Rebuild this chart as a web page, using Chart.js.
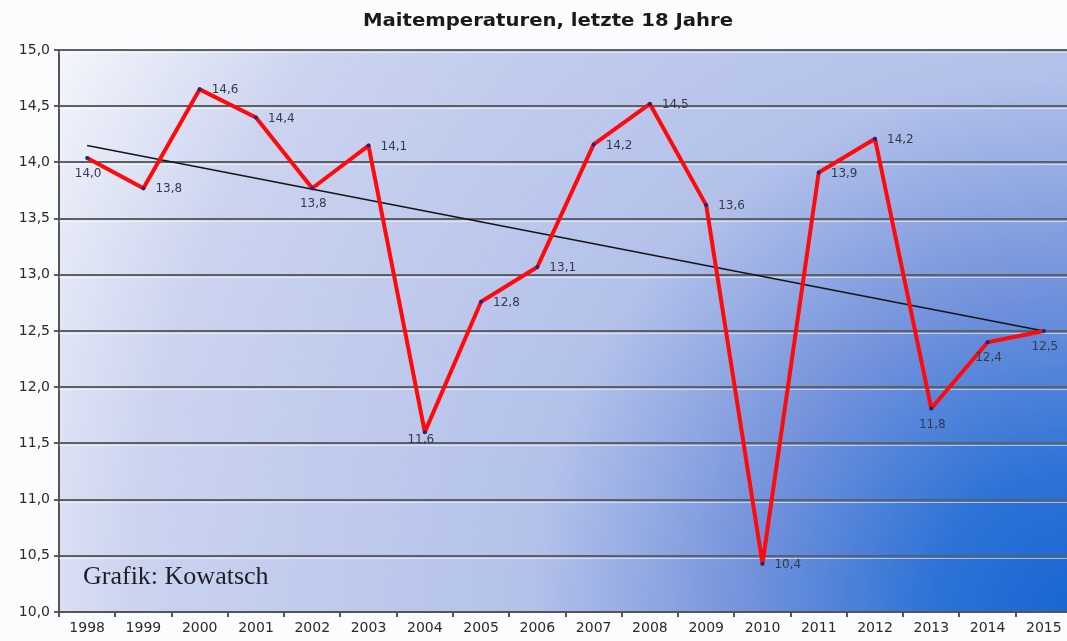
<!DOCTYPE html>
<html>
<head>
<meta charset="utf-8">
<script src="https://cdn.jsdelivr.net/npm/chart.js@4/dist/chart.umd.min.js"></script>
<style>
  html, body { margin:0; padding:0; background:#fbfcfe; overflow:hidden; }
  #wrap { width:1067px; height:641px; overflow:hidden; }
</style>
</head>
<body>
<div id="wrap"><canvas id="c" width="1076" height="641"></canvas></div>
<script>
// data
const years  = ['1998','1999','2000','2001','2002','2003','2004','2005','2006','2007','2008','2009','2010','2011','2012','2013','2014','2015'];
const temps  = [14.04, 13.77, 14.65, 14.40, 13.77, 14.15, 11.60, 12.76, 13.07, 14.16, 14.52, 13.62, 10.43, 13.91, 14.21, 11.81, 12.40, 12.50];
const labels = ['14,0','13,8','14,6','14,4','13,8','14,1','11,6','12,8','13,1','14,2','14,5','13,6','10,4','13,9','14,2','11,8','12,4','12,5'];
// trend line: only the two end values, drawn straight between them
const trend  = [14.15, null, null, null, null, null, null, null, null, null, null, null, null, null, null, null, null, 12.50];
const yTicks = [10, 10.5, 11, 11.5, 12, 12.5, 13, 13.5, 14, 14.5, 15];

// where each value label sits: r = right of point, b = below, c = just under the point
const labelPos = ['b','r','r','r','b','r','c','r','r','r','r','r','r','r','r','b','b','b'];

const FONT = '"DejaVu Sans", "Liberation Sans", Arial, sans-serif';

const bgPlugin = {
  id: 'bg',
  beforeDraw(chart){
    const { ctx, chartArea:a } = chart;
    const g = ctx.createRadialGradient(a.right, a.bottom, 0, a.right, a.bottom, 1170);
    g.addColorStop(0.00, '#1a65d2');
    g.addColorStop(0.12, '#2d73d7');
    g.addColorStop(0.28, '#7493dc');
    g.addColorStop(0.46, '#b3c1ea');
    g.addColorStop(0.80, '#cbd3ef');
    g.addColorStop(1.00, '#f7f8fc');
    ctx.save();
    ctx.fillStyle = g;
    ctx.fillRect(a.left, a.top, a.right - a.left, a.bottom - a.top);
    ctx.restore();
  },
  beforeDatasetsDraw(chart){
    // light line under each grid line, like the embossed look of the original
    const { ctx, chartArea:a, scales } = chart;
    ctx.save();
    ctx.strokeStyle = 'rgba(255,255,255,0.55)';
    ctx.lineWidth = 1;
    yTicks.forEach(v => {
      const y = Math.round(scales.y.getPixelForValue(v)) + 2.5;
      if (y > a.bottom) return;
      ctx.beginPath();
      ctx.moveTo(a.left, y);
      ctx.lineTo(a.right, y);
      ctx.stroke();
    });
    ctx.restore();
  }
};

const textPlugin = {
  id: 'texts',
  afterDraw(chart){
    const { ctx } = chart;
    const meta = chart.getDatasetMeta(0);
    ctx.save();
    // title, stretched a bit like the original
    ctx.fillStyle = '#1a1a1a';
    ctx.font = 'bold 18px ' + FONT;
    ctx.textBaseline = 'middle';
    ctx.textAlign = 'center';
    const title = 'Maitemperaturen, letzte 18 Jahre';
    const w = ctx.measureText(title).width;
    const sx = 370 / w;
    ctx.save();
    ctx.translate(548, 21);
    ctx.scale(sx, 1);
    ctx.fillText(title, 0, 0);
    ctx.restore();
    // value labels
    ctx.font = '12px ' + FONT;
    ctx.fillStyle = '#343a4c';
    meta.data.forEach((p, i) => {
      const pos = labelPos[i];
      if (pos === 'r'){
        ctx.textAlign = 'left';
        ctx.fillText(labels[i], p.x + 12, p.y + 1);
      } else if (pos === 'c'){
        ctx.textAlign = 'center';
        ctx.fillText(labels[i], p.x - 4, p.y + 8);
      } else {
        ctx.textAlign = 'center';
        ctx.fillText(labels[i], p.x + 1, p.y + 16);
      }
    });
    // credit
    ctx.font = '26px "Liberation Serif", "Times New Roman", serif';
    ctx.fillStyle = '#1e1e28';
    ctx.textAlign = 'left';
    ctx.fillText('Grafik: Kowatsch', 83, 577);
    ctx.restore();
  }
};

new Chart(document.getElementById('c'), {
  type: 'line',
  data: {
    labels: years,
    datasets: [
      {
        data: temps,
        borderColor: '#ff0a0a',
        borderWidth: 4,
        borderJoinStyle: 'round',
        pointRadius: 2,
        pointBackgroundColor: '#1a2680',
        pointBorderWidth: 0,
        tension: 0,
        order: 1
      },
      {
        data: trend,
        spanGaps: true,
        borderColor: '#151515',
        borderWidth: 1.6,
        pointRadius: 0,
        tension: 0,
        order: 2
      }
    ]
  },
  options: {
    responsive: false,
    animation: false,
    events: [],
    layout: { padding: { top: 50, right: 4, left: 0, bottom: 0 } },
    plugins: { legend: { display: false }, tooltip: { enabled: false }, title: { display: false } },
    scales: {
      x: {
        type: 'category',
        offset: true,
        border: { color: '#555', width: 2 },
        grid: { display: true, drawOnChartArea: false, drawTicks: true, tickLength: 5, offset: true, color: '#555', lineWidth: 2 },
        ticks: { color: '#2a2a2a', font: { size: 14, family: FONT }, padding: 3, maxRotation: 0, autoSkip: false },
        afterFit(s){ s.height = 29; }
      },
      y: {
        min: 10, max: 15,
        afterBuildTicks(s){ s.ticks = yTicks.map(v => ({ value: v })); },
        border: { color: '#555', width: 2 },
        grid: { color: '#5f6066', lineWidth: 2, tickLength: 5 },
        ticks: {
          color: '#2a2a2a',
          font: { size: 14, family: FONT },
          padding: 4,
          callback: v => v.toFixed(1).replace('.', ',')
        },
        afterFit(s){ s.width = 59; }
      }
    }
  },
  plugins: [bgPlugin, textPlugin]
});
</script>
</body>
</html>
